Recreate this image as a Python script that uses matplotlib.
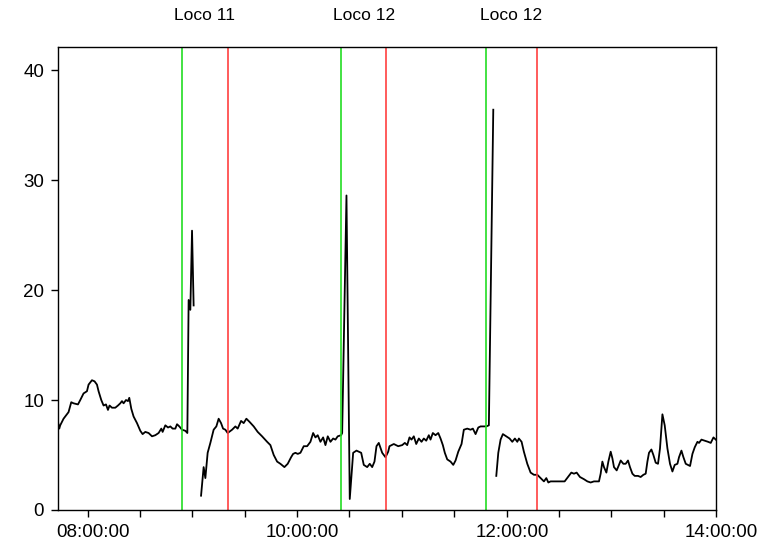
"""Loco passages vs. measured signal."""

import matplotlib

matplotlib.use("Agg")

import matplotlib.dates as mdates
import matplotlib.pyplot as plt
import matplotlib.transforms as mtransforms
import numpy as np
import pandas as pd

nan = np.nan

times = [
    "07:42:34", "07:43:43", "07:44:17", "07:46:11", "07:49:03", "07:50:36", "07:51:55",
    "07:54:27", "07:55:46", "07:57:39", "07:59:36", "08:00:31", "08:02:28", "08:03:57",
    "08:05:20", "08:06:15", "08:07:48", "08:09:07", "08:10:30", "08:11:38", "08:12:33",
    "08:13:56", "08:15:50", "08:17:22", "08:18:41", "08:19:40", "08:20:35", "08:21:58",
    "08:23:06", "08:23:51", "08:25:00", "08:26:19", "08:28:16", "08:30:10", "08:31:29",
    "08:33:02", "08:34:55", "08:36:52", "08:38:46", "08:40:39", "08:42:12", "08:42:57",
    "08:44:30", "08:46:03", "08:47:22", "08:48:41", "08:50:14", "08:51:12", "08:52:31",
    "08:54:04", "08:55:58", "08:57:07", "08:57:51", "08:58:50", "08:59:48", "09:00:43",
    "09:03:00",
    "09:04:58", "09:06:27", "09:07:26", "09:08:45", "09:10:18", "09:12:11", "09:13:44",
    "09:15:03", "09:16:26", "09:17:35", "09:18:54", "09:20:13", "09:22:45", "09:24:38",
    "09:25:57", "09:27:54", "09:29:23", "09:30:56", "09:32:50", "09:35:08", "09:37:25",
    "09:39:56", "09:42:49", "09:44:42", "09:46:36", "09:48:33", "09:50:26", "09:52:44",
    "09:54:37", "09:56:34", "09:57:43", "09:59:02", "10:00:22", "10:01:54", "10:03:48",
    "10:05:45", "10:07:38", "10:09:11", "10:10:30", "10:11:49", "10:13:22", "10:14:55",
    "10:16:14", "10:17:34", "10:19:07", "10:20:39", "10:21:58", "10:23:17", "10:25:14",
    "10:25:49", "10:28:17", "10:30:10", "10:32:07", "10:34:01", "10:36:43", "10:38:12",
    "10:40:09", "10:41:38", "10:43:01", "10:44:20", "10:45:29", "10:46:48", "10:48:45",
    "10:50:38", "10:52:11", "10:52:56", "10:55:24", "10:57:55", "11:00:13", "11:01:43",
    "11:03:05", "11:04:24", "11:05:33", "11:06:52", "11:08:15", "11:09:44", "11:11:17",
    "11:12:36", "11:13:59", "11:15:28", "11:16:26", "11:17:46", "11:19:19", "11:20:52",
    "11:22:11", "11:23:30", "11:24:38", "11:26:01", "11:27:55", "11:29:28", "11:30:47",
    "11:32:20", "11:34:13", "11:35:32", "11:37:29", "11:39:23", "11:40:42", "11:42:15",
    "11:43:48", "11:45:07", "11:47:00", "11:48:23", "11:49:52", "11:52:24",
    "11:53:15",
    "11:54:07", "11:55:16", "11:56:35", "11:57:54", "11:59:51", "12:01:44", "12:03:17",
    "12:04:47", "12:06:10", "12:07:04", "12:08:37", "12:09:56", "12:11:53", "12:13:47",
    "12:15:41", "12:17:38", "12:19:31", "12:21:25", "12:22:47", "12:23:56", "12:25:15",
    "12:28:07", "12:30:59", "12:33:17", "12:35:10", "12:37:07", "12:38:37", "12:40:10",
    "12:42:03", "12:44:21", "12:46:18", "12:48:11", "12:50:05", "12:52:57", "12:53:55",
    "12:54:54", "12:55:49", "12:57:12", "12:58:20", "12:59:40", "13:00:38", "13:01:33",
    "13:03:06", "13:04:25", "13:05:24", "13:06:56", "13:08:15", "13:09:35", "13:10:43",
    "13:12:06", "13:13:25", "13:15:19", "13:16:51", "13:18:24", "13:19:43", "13:20:42",
    "13:21:37", "13:22:59", "13:24:08", "13:25:27", "13:26:47", "13:27:55", "13:29:18",
    "13:30:37", "13:32:10", "13:33:39", "13:35:02", "13:36:21", "13:37:54", "13:38:49",
    "13:40:12", "13:41:20", "13:42:40", "13:45:08", "13:46:30", "13:47:49", "13:49:22",
    "13:50:17", "13:51:40", "13:53:33", "13:55:27", "13:57:00", "13:58:33", "13:59:52",
]

values = [
    8.4, 7.4, 7.7, 8.3, 8.9, 9.8, 9.7,
    9.6, 10.0, 10.6, 10.8, 11.4, 11.8, 11.7,
    11.4, 10.8, 10.0, 9.5, 9.6, 9.1, 9.5,
    9.3, 9.3, 9.5, 9.7, 9.9, 9.7, 10.0,
    9.9, 10.2, 9.2, 8.5, 7.9, 7.2, 6.9,
    7.1, 7.0, 6.7, 6.8, 7.0, 7.4, 7.1,
    7.7, 7.5, 7.6, 7.4, 7.4, 7.8, 7.6,
    7.3, 7.2, 7.0, 19.1, 18.2, 25.4, 18.6,
    nan,
    1.3, 3.9, 2.9, 5.2, 6.1, 7.3, 7.6,
    8.3, 7.9, 7.4, 7.3, 7.0, 7.3, 7.6,
    7.4, 8.1, 7.9, 8.3, 8.0, 7.6, 7.1,
    6.7, 6.2, 5.9, 5.0, 4.4, 4.2, 3.9,
    4.2, 4.8, 5.1, 5.2, 5.1, 5.2, 5.8,
    5.8, 6.2, 7.0, 6.6, 6.8, 6.2, 6.6,
    5.9, 6.7, 6.2, 6.5, 6.4, 6.7, 6.8,
    7.0, 28.6, 1.0, 5.2, 5.4, 5.2, 4.1,
    3.9, 4.2, 3.9, 4.4, 5.8, 6.1, 5.2,
    4.8, 5.3, 5.8, 6.0, 5.8, 5.9, 6.1,
    5.9, 6.6, 6.4, 6.7, 6.0, 6.5, 6.2,
    6.5, 6.3, 6.8, 6.4, 7.0, 6.8, 7.0,
    6.5, 5.9, 5.2, 4.6, 4.4, 4.1, 4.5,
    5.3, 6.0, 7.3, 7.4, 7.3, 7.4, 6.9,
    7.5, 7.6, 7.6, 7.6, 7.7, 36.4,
    nan,
    3.1, 5.2, 6.4, 6.9, 6.7, 6.5, 6.2,
    6.5, 6.2, 6.5, 6.2, 5.3, 4.2, 3.4,
    3.2, 3.2, 2.9, 2.6, 2.9, 2.5, 2.6,
    2.6, 2.6, 2.6, 3.0, 3.4, 3.3, 3.4,
    3.0, 2.8, 2.6, 2.5, 2.6, 2.6, 3.3,
    4.4, 3.9, 3.4, 4.4, 5.3, 4.7, 3.9,
    3.6, 4.1, 4.5, 4.2, 4.2, 4.5, 3.9,
    3.3, 3.1, 3.1, 3.0, 3.2, 3.3, 4.4,
    5.2, 5.5, 5.0, 4.3, 4.2, 5.6, 8.7,
    7.7, 5.6, 4.2, 3.5, 4.1, 4.2, 4.8,
    5.4, 4.8, 4.2, 4.0, 5.1, 5.7, 6.2,
    6.1, 6.4, 6.3, 6.2, 6.1, 6.6, 6.4,
]

loco_names = ["Loco 11", "Loco 12", "Loco 12"]
loco_start = ["08:54:04", "10:25:14", "11:48:00"]
loco_end = ["09:20:13", "10:51:02", "12:17:13"]

day = "2000-01-01 "
fonts = ["Liberation Sans", "DejaVu Sans"]


def stamp(t):
    return pd.Timestamp(day + t)


fig = plt.figure(figsize=(7.67, 5.43), dpi=100)
ax = fig.add_axes([0.0756, 0.0608, 0.8579, 0.8526])

x = [stamp(t) for t in times]
ax.plot(x, values, color="black", linewidth=1.3)

for name, t0, t1 in zip(loco_names, loco_start, loco_end):
    a, b = stamp(t0), stamp(t1)
    ax.axvline(a, color="#22dd22", linewidth=1.2)
    ax.axvline(b, color="#ff4040", linewidth=1.2)
    mid = a + (b - a) / 2
    ax.text(mdates.date2num(mid), 1.069, name, transform=ax.get_xaxis_transform(),
            ha="center", va="center", fontsize=12.5, family=fonts)

ax.set_xlim(stamp("07:43:00"), stamp("14:00:00"))
ax.set_ylim(0, 42.1)
ax.set_yticks([0, 10, 20, 30, 40])

ax.xaxis.set_major_locator(mdates.HourLocator(byhour=[8, 10, 12, 14]))
ax.xaxis.set_minor_locator(mdates.MinuteLocator(byminute=[0, 30]))
ax.xaxis.set_major_formatter(mdates.DateFormatter("%H:%M:%S"))

ax.tick_params(axis="both", which="both", direction="out", length=5, width=1,
               labelsize=13.5, pad=5)
shift = mtransforms.ScaledTranslation(4 / 72, 0, fig.dpi_scale_trans)
for lab in ax.get_xticklabels():
    lab.set_family(fonts)
    lab.set_transform(lab.get_transform() + shift)
for lab in ax.get_yticklabels():
    lab.set_family(fonts)
for sp in ax.spines.values():
    sp.set_linewidth(1.0)

fig.savefig("out.png", dpi=100)
plt.close(fig)
